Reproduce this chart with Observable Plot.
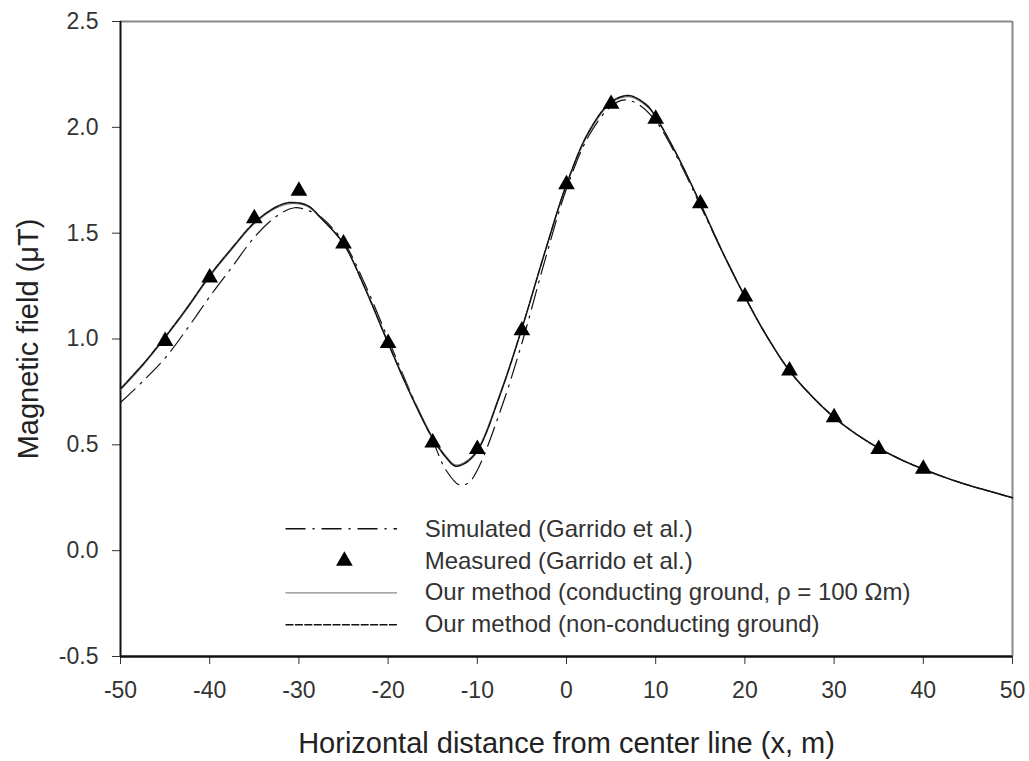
<!DOCTYPE html>
<html>
<head>
<meta charset="utf-8">
<script src="https://cdn.jsdelivr.net/npm/d3@7"></script>
<script src="https://cdn.jsdelivr.net/npm/@observablehq/plot@0.6"></script>
<style>
  html, body { margin: 0; padding: 0; background: white; }
  #chart { width: 1029px; height: 761px; }
</style>
</head>
<body>
<div id="chart"></div>
<script>
// ---- Data ----
const xTicks = [-50, -40, -30, -20, -10, 0, 10, 20, 30, 40, 50];
const yTicks = [-0.5, 0.0, 0.5, 1.0, 1.5, 2.0, 2.5];

const measuredX = [-45, -40, -35, -30, -25, -20, -15, -10, -5, 0, 5, 10, 15, 20, 25, 30, 35, 40];
const measuredY = [0.99, 1.29, 1.57, 1.70, 1.45, 0.98, 0.51, 0.48, 1.04, 1.73, 2.11, 2.04, 1.64, 1.20, 0.85, 0.63, 0.48, 0.386];

const nonCondX = [-50, -47.5, -45, -42.5, -40, -37.5, -35, -32.5, -31, -29, -27.5, -25, -22.5, -20, -17.5, -15, -13.5, -12.5, -11.5, -10, -7.5, -5, -2.5, 0, 2.5, 5, 7, 9, 10, 12.5, 15, 17.5, 20, 22.5, 25, 27.5, 30, 32.5, 35, 37.5, 40, 42.5, 45, 47.5, 50];
const nonCondY = [0.765, 0.88, 1.01, 1.15, 1.30, 1.43, 1.55, 1.625, 1.645, 1.63, 1.57, 1.45, 1.23, 0.98, 0.74, 0.53, 0.44, 0.40, 0.41, 0.47, 0.73, 1.05, 1.40, 1.73, 1.98, 2.12, 2.15, 2.105, 2.05, 1.86, 1.64, 1.41, 1.20, 1.01, 0.85, 0.73, 0.63, 0.55, 0.485, 0.43, 0.385, 0.345, 0.31, 0.28, 0.25];

const condX = [-50, -47.5, -45, -42.5, -40, -37.5, -35, -32.5, -31, -29, -27.5, -25, -22.5, -20, -17.5, -15, -13.5, -12.5, -11.5, -10, -7.5, -5, -2.5, 0, 2.5, 5, 7, 9, 10, 12.5, 15, 17.5, 20, 22.5, 25, 27.5, 30, 32.5, 35, 37.5, 40, 42.5, 45, 47.5, 50];
const condY = [0.76, 0.875, 1.005, 1.145, 1.295, 1.425, 1.545, 1.62, 1.64, 1.625, 1.57, 1.45, 1.235, 0.985, 0.745, 0.535, 0.445, 0.405, 0.415, 0.475, 0.735, 1.05, 1.40, 1.73, 1.975, 2.115, 2.145, 2.10, 2.05, 1.86, 1.64, 1.41, 1.20, 1.01, 0.85, 0.73, 0.63, 0.55, 0.485, 0.43, 0.385, 0.345, 0.31, 0.28, 0.25];

const simX = [-50, -47.5, -45, -42.5, -40, -37.5, -35, -32.5, -30.5, -28.5, -27.5, -25, -22.5, -20, -17.5, -15, -13.5, -12, -11, -10, -7.5, -5, -2.5, 0, 2.5, 5, 6.5, 8, 10, 12.5, 15, 17.5, 20, 22.5, 25, 27.5, 30, 32.5, 35, 37.5, 40, 42.5, 45, 47.5, 50];
const simY = [0.70, 0.80, 0.91, 1.05, 1.20, 1.34, 1.48, 1.58, 1.62, 1.60, 1.575, 1.46, 1.25, 1.00, 0.75, 0.52, 0.38, 0.31, 0.32, 0.38, 0.65, 0.98, 1.36, 1.71, 1.96, 2.10, 2.13, 2.11, 2.03, 1.85, 1.63, 1.41, 1.20, 1.01, 0.85, 0.73, 0.63, 0.55, 0.485, 0.43, 0.385, 0.345, 0.31, 0.28, 0.25];

const legendLabels = [
  "Simulated (Garrido et al.)",
  "Measured (Garrido et al.)",
  "Our method (conducting ground, ρ = 100 Ωm)",
  "Our method (non-conducting ground)"
];
const xTitle = "Horizontal distance from center line (x, m)";
const yTitle = "Magnetic field (μT)";

// ---- Build tables ----
const zip = (xs, ys) => xs.map((x, i) => ({x, y: ys[i]}));
const measured = zip(measuredX, measuredY);
const nonCond = zip(nonCondX, nonCondY);
const cond = zip(condX, condY);
const sim = zip(simX, simY);

// legend layout (in data units of the chart scales)
const legX1 = -31.5, legX2 = -19.0, legXm = -24.9, legXt = -15.9;
const legY0 = 0.103, legStep = 0.151;
const legRows = legendLabels.map((label, i) => ({label, i, y: legY0 - i * legStep}));

const dashDot = "20,7,2,7";
const fineDash = "8,1.4";

const chart = Plot.plot({
  width: 1029,
  height: 761,
  marginLeft: 120,
  marginRight: 17,
  marginTop: 21,
  marginBottom: 105,
  style: {fontFamily: "'Liberation Sans', Arial, sans-serif", background: "white", color: "#222"},
  x: {domain: [-50, 50]},
  y: {domain: [-0.5, 2.5]},
  marks: [
    Plot.axisX({ticks: xTicks, tickSize: 8, tickPadding: 17, fontSize: 23, label: null, color: "#333", tickFormat: d => String(d).replace("−", "-")}),
    Plot.axisY({ticks: yTicks, tickSize: 8, tickPadding: 14, fontSize: 23, label: null, color: "#333", tickFormat: d => d3.format(".1f")(d).replace("−", "-")}),
    // frame
    Plot.ruleY([2.5], {stroke: "#888", strokeWidth: 2}),
    Plot.ruleX([50], {stroke: "#888", strokeWidth: 2}),
    Plot.ruleX([-50], {stroke: "#111", strokeWidth: 2}),
    Plot.ruleY([-0.5], {stroke: "#111", strokeWidth: 2.5}),
    // curves
    Plot.line(sim, {x: "x", y: "y", curve: "catmull-rom", stroke: "#111", strokeWidth: 1.2, strokeDasharray: dashDot}),
    Plot.line(cond, {x: "x", y: "y", curve: "catmull-rom", stroke: "#777", strokeWidth: 1.3}),
    Plot.line(nonCond, {x: "x", y: "y", curve: "catmull-rom", stroke: "#111", strokeWidth: 1.5, strokeDasharray: fineDash}),
    Plot.dot(measured, {x: "x", y: "y", symbol: "triangle", r: 6.2, fill: "#000", stroke: "none"}),
    // legend
    Plot.link([legRows[0]], {x1: legX1, x2: legX2, y1: "y", y2: "y", stroke: "#111", strokeWidth: 1.5, strokeDasharray: dashDot}),
    Plot.dot([legRows[1]], {x: legXm, y: "y", symbol: "triangle", r: 6.2, fill: "#000", stroke: "none"}),
    Plot.link([legRows[2]], {x1: legX1, x2: legX2, y1: "y", y2: "y", stroke: "#888", strokeWidth: 1.3}),
    Plot.link([legRows[3]], {x1: legX1, x2: legX2, y1: "y", y2: "y", stroke: "#111", strokeWidth: 1.5, strokeDasharray: fineDash}),
    Plot.text(legRows, {x: legXt, y: "y", text: "label", textAnchor: "start", fontSize: 24, fill: "#333"}),
    // axis titles
    Plot.text([xTitle], {frameAnchor: "bottom", textAnchor: "middle", lineAnchor: "middle", dy: 87, fontSize: 29, fill: "#222"}),
    Plot.text([yTitle], {frameAnchor: "left", textAnchor: "middle", lineAnchor: "middle", dx: -92, rotate: -90, fontSize: 29, fill: "#222"})
  ]
});
document.getElementById("chart").appendChild(chart);
</script>
</body>
</html>
